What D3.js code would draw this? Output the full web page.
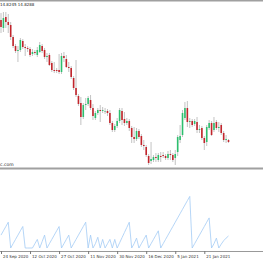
<!DOCTYPE html>
<html>
<head>
<meta charset="utf-8">
<script src="https://cdn.jsdelivr.net/npm/d3@7"></script>
<style>
body { margin: 0; background: #fff; }
svg { display: block; font-family: 'DejaVu Sans', sans-serif; }
</style>
</head>
<body>
<svg></svg>
<script>
'use strict';

// daily candles, 24 Sep 2020 .. late Jan 2021
var open = [
    17.20, 17.04, 17.26, 17.16, 17.10, 16.86, 16.68, 16.58, 16.60, 16.78,
    16.66, 16.64, 16.62, 16.52, 16.56, 16.50, 16.56, 16.68, 16.60, 16.46,
    16.50, 16.34, 16.20, 16.20, 16.20, 16.16, 16.48, 16.42, 16.26, 16.24,
    16.04, 15.84, 15.68, 15.54, 15.26, 15.50, 15.52, 15.60, 15.44, 15.24,
    15.34, 15.40, 15.38, 15.38, 15.38, 15.34, 15.14, 15.00, 15.08, 15.18,
    15.38, 15.22, 15.14, 15.18, 15.04, 14.86, 14.82, 14.98, 14.88, 14.70,
    14.66, 14.48, 14.38, 14.40, 14.46, 14.40, 14.48, 14.50, 14.48, 14.44,
    14.52, 14.50, 14.44, 14.56, 14.80, 14.90, 15.24, 15.44, 15.16, 15.18,
    15.12, 15.16, 15.00, 15.04, 14.84, 14.76, 15.04, 15.14, 15.00, 15.16,
    15.04, 15.10, 14.94, 14.80, 14.80
];
var high = [
    17.34, 17.36, 17.36, 17.32, 17.16, 16.90, 16.72, 16.68, 16.84, 16.82,
    16.72, 16.68, 16.66, 16.62, 16.60, 16.66, 16.76, 16.72, 16.64, 16.54,
    16.54, 16.38, 16.36, 16.24, 16.52, 16.54, 16.56, 16.50, 16.36, 16.28,
    16.08, 16.40, 15.72, 15.66, 15.54, 15.64, 15.68, 15.70, 15.52, 15.38,
    15.44, 15.50, 15.46, 15.44, 15.42, 15.40, 15.18, 15.12, 15.24, 15.44,
    15.44, 15.36, 15.24, 15.22, 15.08, 15.06, 15.04, 15.02, 14.92, 14.80,
    14.70, 14.52, 14.76, 14.50, 14.54, 14.54, 14.56, 14.56, 14.52, 14.58,
    14.60, 14.54, 14.60, 14.90, 15.10, 15.40, 15.56, 15.58, 15.24, 15.22,
    15.22, 15.26, 15.10, 15.08, 14.88, 15.10, 15.20, 15.18, 15.26, 15.20,
    15.16, 15.14, 14.98, 14.90, 14.82
];
var low = [
    16.94, 16.96, 17.04, 16.94, 16.80, 16.64, 16.54, 16.36, 16.56, 16.62,
    16.48, 16.56, 16.46, 16.48, 16.50, 16.46, 16.54, 16.54, 16.42, 16.36,
    16.28, 16.16, 16.14, 16.14, 16.12, 16.12, 16.36, 16.24, 16.16, 16.02,
    15.80, 15.66, 15.48, 15.10, 15.22, 15.40, 15.48, 15.40, 15.20, 15.20,
    15.30, 15.16, 15.34, 15.32, 15.28, 15.10, 14.96, 14.96, 15.04, 15.14,
    15.10, 15.08, 15.10, 14.98, 14.74, 14.74, 14.78, 14.82, 14.66, 14.60,
    14.46, 14.30, 14.32, 14.36, 14.36, 14.36, 14.36, 14.44, 14.40, 14.40,
    14.40, 14.36, 14.30, 14.48, 14.74, 14.86, 15.20, 15.06, 15.04, 15.06,
    15.08, 14.94, 14.94, 14.80, 14.60, 14.68, 15.00, 14.88, 14.96, 15.00,
    14.96, 14.90, 14.76, 14.74, 14.74
];
var close = [
    17.06, 17.24, 17.16, 17.10, 16.86, 16.68, 16.58, 16.60, 16.80, 16.66,
    16.64, 16.62, 16.50, 16.56, 16.54, 16.60, 16.70, 16.58, 16.46, 16.48,
    16.30, 16.20, 16.18, 16.18, 16.16, 16.48, 16.44, 16.26, 16.24, 16.06,
    15.84, 15.70, 15.52, 15.26, 15.50, 15.52, 15.64, 15.44, 15.28, 15.34,
    15.40, 15.38, 15.40, 15.38, 15.34, 15.14, 15.00, 15.08, 15.18, 15.40,
    15.20, 15.14, 15.18, 15.04, 14.86, 14.82, 14.98, 14.86, 14.70, 14.68,
    14.50, 14.34, 14.42, 14.46, 14.44, 14.50, 14.46, 14.48, 14.44, 14.52,
    14.50, 14.40, 14.52, 14.86, 14.88, 15.34, 15.44, 15.16, 15.18, 15.10,
    15.18, 15.00, 15.02, 14.84, 14.74, 15.06, 15.14, 14.90, 15.14, 15.04,
    15.06, 14.94, 14.80, 14.82, 14.76
];

// lower window indicator (sawtooth)
var osc = [
    3, 4, 5, 6, 0, 1, 2, 3, 4, 5,
    0, 0, 0, 0, 1, 2, 0, 1.5, 3, 0,
    1, 2, 3, 4, 5, 0, 1, 2, 3, 0,
    1, 2, 3, 4, 5, 6, 0, 3, 0, 1,
    2.5, 0, 2, 0, 1, 2, 0, 2, 0, 1.2,
    2.4, 3.6, 4.8, 6, 0, 1, 2.3, 0, 1, 2,
    3, 0, 1, 2, 3, 4, 0, 1, 2, 3,
    4, 5, 6, 7, 8, 9, 10, 11, 12, 0,
    1, 2, 3, 4, 5, 6, 7, 0, 1, 2.3,
    0, 0.9, 1.7, 2.3, 2.8
];

var tickBars = [0, 12, 24, 36, 48, 60, 72, 84];
var tickLabels = ['24 Sep 2020', '12 Oct 2020', '27 Oct 2020', '11 Nov 2020', '30 Nov 2020', '16 Dec 2020', '5 Jan 2021', '21 Jan 2021'];

var headerText = '14.8245 14.8288';
var watermark = 'c.com';

function render() {

    var w = 263;
    var h = 260;
    var d3 = window.d3;

    var svg = d3.select('svg').attr('width', w).attr('height', h);

    var x = d3.scaleLinear().domain([0, 94]).range([1, 228.5]);
    var y = d3.scaleLinear().domain([14.24, 17.6]).range([168, 0]);
    var y2 = d3.scaleLinear().domain([0, 12]).range([248, 196.4]);

    var bars = open.map(function (o, i) {
        return { i: i, o: o, h: high[i], l: low[i], c: close[i] };
    });

    // window frame lines
    svg.append('rect').attr('x', 0).attr('y', 0).attr('width', w).attr('height', 1.5).attr('fill', '#a0a0a0');
    svg.append('rect').attr('x', 0).attr('y', 167.5).attr('width', w).attr('height', 2).attr('fill', '#a0a0a0');

    var g = svg.append('g');

    g.selectAll('.wick').data(bars).enter().append('line')
        .attr('class', 'wick')
        .attr('x1', function (d) { return x(d.i); })
        .attr('x2', function (d) { return x(d.i); })
        .attr('y1', function (d) { return y(d.h); })
        .attr('y2', function (d) { return y(d.l); })
        .attr('stroke', '#b4b4b4')
        .attr('stroke-width', 0.8);

    g.selectAll('.body').data(bars).enter().append('rect')
        .attr('class', 'body')
        .attr('x', function (d) { return x(d.i) - 0.8; })
        .attr('width', 1.6)
        .attr('y', function (d) { return y(Math.max(d.o, d.c)); })
        .attr('height', function (d) { return Math.max(0.6, Math.abs(y(d.o) - y(d.c))); })
        .attr('fill', function (d) { return d.c >= d.o ? '#2dbf6e' : '#c2252c'; });

    svg.append('text').attr('x', 0).attr('y', 6)
        .attr('font-size', 4).attr('fill', '#222')
        .text(headerText);

    svg.append('text').attr('x', 0).attr('y', 166)
        .attr('font-size', 4.5).attr('fill', '#222')
        .text(watermark);

    // indicator line
    var line = d3.line()
        .x(function (d, i) { return x(i); })
        .y(function (d) { return y2(d); });

    svg.append('path').datum(osc)
        .attr('d', line)
        .attr('fill', 'none')
        .attr('stroke', '#a3cbf5')
        .attr('stroke-width', 0.8);

    // time axis
    var xAxis = d3.axisBottom(x).tickValues(tickBars)
        .tickSize(3)
        .tickFormat(function (d, i) { return tickLabels[i]; });

    var ax = svg.append('g').attr('transform', 'translate(0,251)').call(xAxis);
    ax.select('.domain').attr('d', 'M0,0.5H' + w).attr('stroke', '#999');
    ax.selectAll('.tick line').attr('stroke', '#777');
    ax.selectAll('.tick text')
        .attr('text-anchor', 'start')
        .attr('x', 1.5)
        .attr('y', 3)
        .attr('dy', '0.9em')
        .attr('font-size', 4)
        .attr('font-family', 'DejaVu Sans, sans-serif')
        .attr('fill', '#333');
}

render();
</script>
</body>
</html>
